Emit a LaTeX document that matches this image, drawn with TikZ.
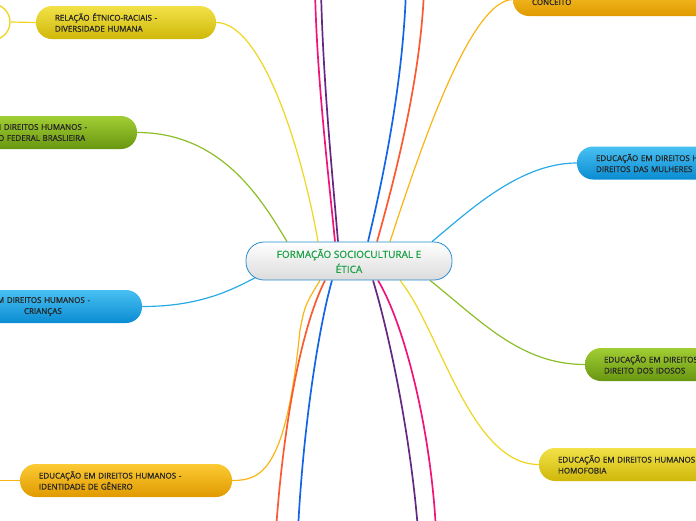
\documentclass[tikz,border=0pt]{standalone}
\usepackage{fontspec}
\setmainfont{Open Sans}[BoldFont={Open Sans}, BoldFeatures={FakeBold=0.9}]
\usetikzlibrary{positioning}
\pgfdeclarelayer{back}
\pgfsetlayers{back,main}

\definecolor{lnyellow}{RGB}{238,214,32}
\definecolor{lngreen}{RGB}{140,190,40}
\definecolor{lnblue}{RGB}{40,170,230}
\definecolor{lnorange}{RGB}{250,180,20}
\definecolor{lnpink}{RGB}{240,20,120}
\definecolor{lnpurple}{RGB}{100,40,130}
\definecolor{lndeep}{RGB}{20,100,230}
\definecolor{lnred}{RGB}{250,90,50}
\definecolor{yeltop}{RGB}{242,226,72}
\definecolor{yelbot}{RGB}{208,184,10}
\definecolor{oratop}{RGB}{252,202,52}
\definecolor{orabot}{RGB}{224,154,0}
\definecolor{grntop}{RGB}{162,206,52}
\definecolor{grnbot}{RGB}{104,150,16}
\definecolor{blutop}{RGB}{72,192,242}
\definecolor{blubot}{RGB}{10,140,210}
\definecolor{roottext}{RGB}{30,160,70}
\definecolor{rootline}{RGB}{40,140,210}

\begin{document}
\begin{tikzpicture}[x=1pt, y=-1pt,
    topic/.style={rounded corners=16pt, minimum height=33pt, inner xsep=19pt,
                  inner ysep=0pt, align=left, text=black!85,
                  font=\fontsize{8}{11}\selectfont\bfseries},
    yellowbox/.style={topic, top color=yeltop, bottom color=yelbot},
    orangebox/.style={topic, top color=oratop, bottom color=orabot},
    greenbox/.style={topic, top color=grntop, bottom color=grnbot},
    bluebox/.style={topic, top color=blutop, bottom color=blubot},
    rootbox/.style={rounded corners=18pt, minimum width=206pt, minimum height=38pt,
                    inner sep=0pt, top color=white, bottom color=black!14,
                    draw=rootline, line width=0.8pt, align=center, text=roottext,
                    font=\fontsize{10}{15}\selectfont\bfseries},
    link/.style={line width=1.2pt},
    branch/.style={line width=1.7pt}
  ]
  \useasboundingbox (0,0) rectangle (696,520);
  \clip (0,0) rectangle (696,520);

  % central topic
  \node[rootbox] (root) at (349,261) {FORMAÇÃO SOCIOCULTURAL E\\ÉTICA};

  % left side
  \node[draw=lnyellow, line width=1.3pt, circle, minimum size=36pt, fill=white]
    (ring) at (-8,22) {};
  \node[yellowbox, text width=142pt] (rel) at (126,22.5)
    {RELAÇÃO ÉTNICO-RACIAIS -\\DIVERSIDADE HUMANA};
  \node[greenbox, text width=124pt] (const) at (56,132.5)
    {M DIREITOS HUMANOS -\\\hspace*{4pt}O FEDERAL BRASLIEIRA};
  \node[bluebox, text width=126pt] (child) at (60,306.5)
    {M DIREITOS HUMANOS -\\\hspace*{27pt}CRIANÇAS};
  \node[orangebox, text width=174pt] (gender) at (126,480.5)
    {EDUCAÇÃO EM DIREITOS HUMANOS -\\IDENTIDADE DE GÊNERO};

  % right side
  \node[orangebox, text width=192pt] (concept) at (628,-0.5) {\mbox{}\\CONCEITO};
  \node[bluebox, text width=162pt] (women) at (677,163)
    {EDUCAÇÃO EM DIREITOS H\\DIREITOS DAS MULHERES};
  \node[greenbox, text width=162pt] (elder) at (685,364.5)
    {EDUCAÇÃO EM DIREITOS\\DIREITO DOS IDOSOS};
  \node[yellowbox, text width=182pt] (homo) at (649,464.5)
    {EDUCAÇÃO EM DIREITOS HUMANOS\\HOMOFOBIA};

  % free ends off the page
  \coordinate (offgen) at (-12,480.5);
  \coordinate (uppink) at (315,-10);
  \coordinate (uppurple) at (321,-10);
  \coordinate (updeep) at (406,-10);
  \coordinate (upred) at (424,-10);
  \coordinate (dnred) at (276,530);
  \coordinate (dndeep) at (298,530);
  \coordinate (dnpurple) at (418,530);
  \coordinate (dnpink) at (436,530);

  \begin{pgfonlayer}{back}
    \draw[link, lnyellow] (ring.east) -- (rel.west);
    \draw[link, lnorange] (gender.west) -- (offgen);
    % branches to the boxes
    \draw[link, lnyellow] (rel.east) .. controls (262,22.5) and (302,150)
      .. ([xshift=-31pt]root.north);
    \draw[link, lngreen] (const.east) .. controls (222,132.5) and (262,200)
      .. ([xshift=-62pt]root.north);
    \draw[link, lnblue] (child.east) .. controls (200,306.5) and (232,290)
      .. ([xshift=12pt, yshift=4pt]root.south west);
    \draw[link, lnorange] (gender.east) .. controls (262,480.5) and (286,470)
      .. (300,330) .. controls (305,305) .. ([xshift=-29pt]root.south);
    \draw[link, lnorange] (concept.west) .. controls (470,0) and (420,150)
      .. ([xshift=41pt]root.north);
    \draw[link, lnblue] (women.west) .. controls (520,163) and (470,210)
      .. ([xshift=83pt]root.north);
    \draw[link, lngreen] (elder.west) .. controls (520,364.5) and (480,320)
      .. ([xshift=81pt]root.south);
    \draw[link, lnyellow] (homo.west) .. controls (470,464.5) and (440,330)
      .. ([xshift=51pt]root.south);
    % branches leaving the page
    \draw[branch, lnpink] ([xshift=-14pt]root.north) .. controls (328,170) and (317,80) .. (uppink);
    \draw[branch, lnpurple] ([xshift=-11pt]root.north) .. controls (332,170) and (323,80) .. (uppurple);
    \draw[branch, lndeep] ([xshift=19pt]root.north) .. controls (385,170) and (403,80) .. (updeep);
    \draw[branch, lnred] ([xshift=28pt]root.north) .. controls (400,160) and (421,70) .. (upred);
    \draw[branch, lnred] ([xshift=-24pt]root.south) .. controls (300,330) and (283,430) .. (dnred);
    \draw[branch, lndeep] ([xshift=-17pt]root.south) .. controls (318,330) and (303,430) .. (dndeep);
    \draw[branch, lnpurple] ([xshift=24pt]root.south) .. controls (388,330) and (410,430) .. (dnpurple);
    \draw[branch, lnpink] ([xshift=29pt]root.south) .. controls (402,320) and (430,420) .. (dnpink);
  \end{pgfonlayer}
\end{tikzpicture}
\end{document}
